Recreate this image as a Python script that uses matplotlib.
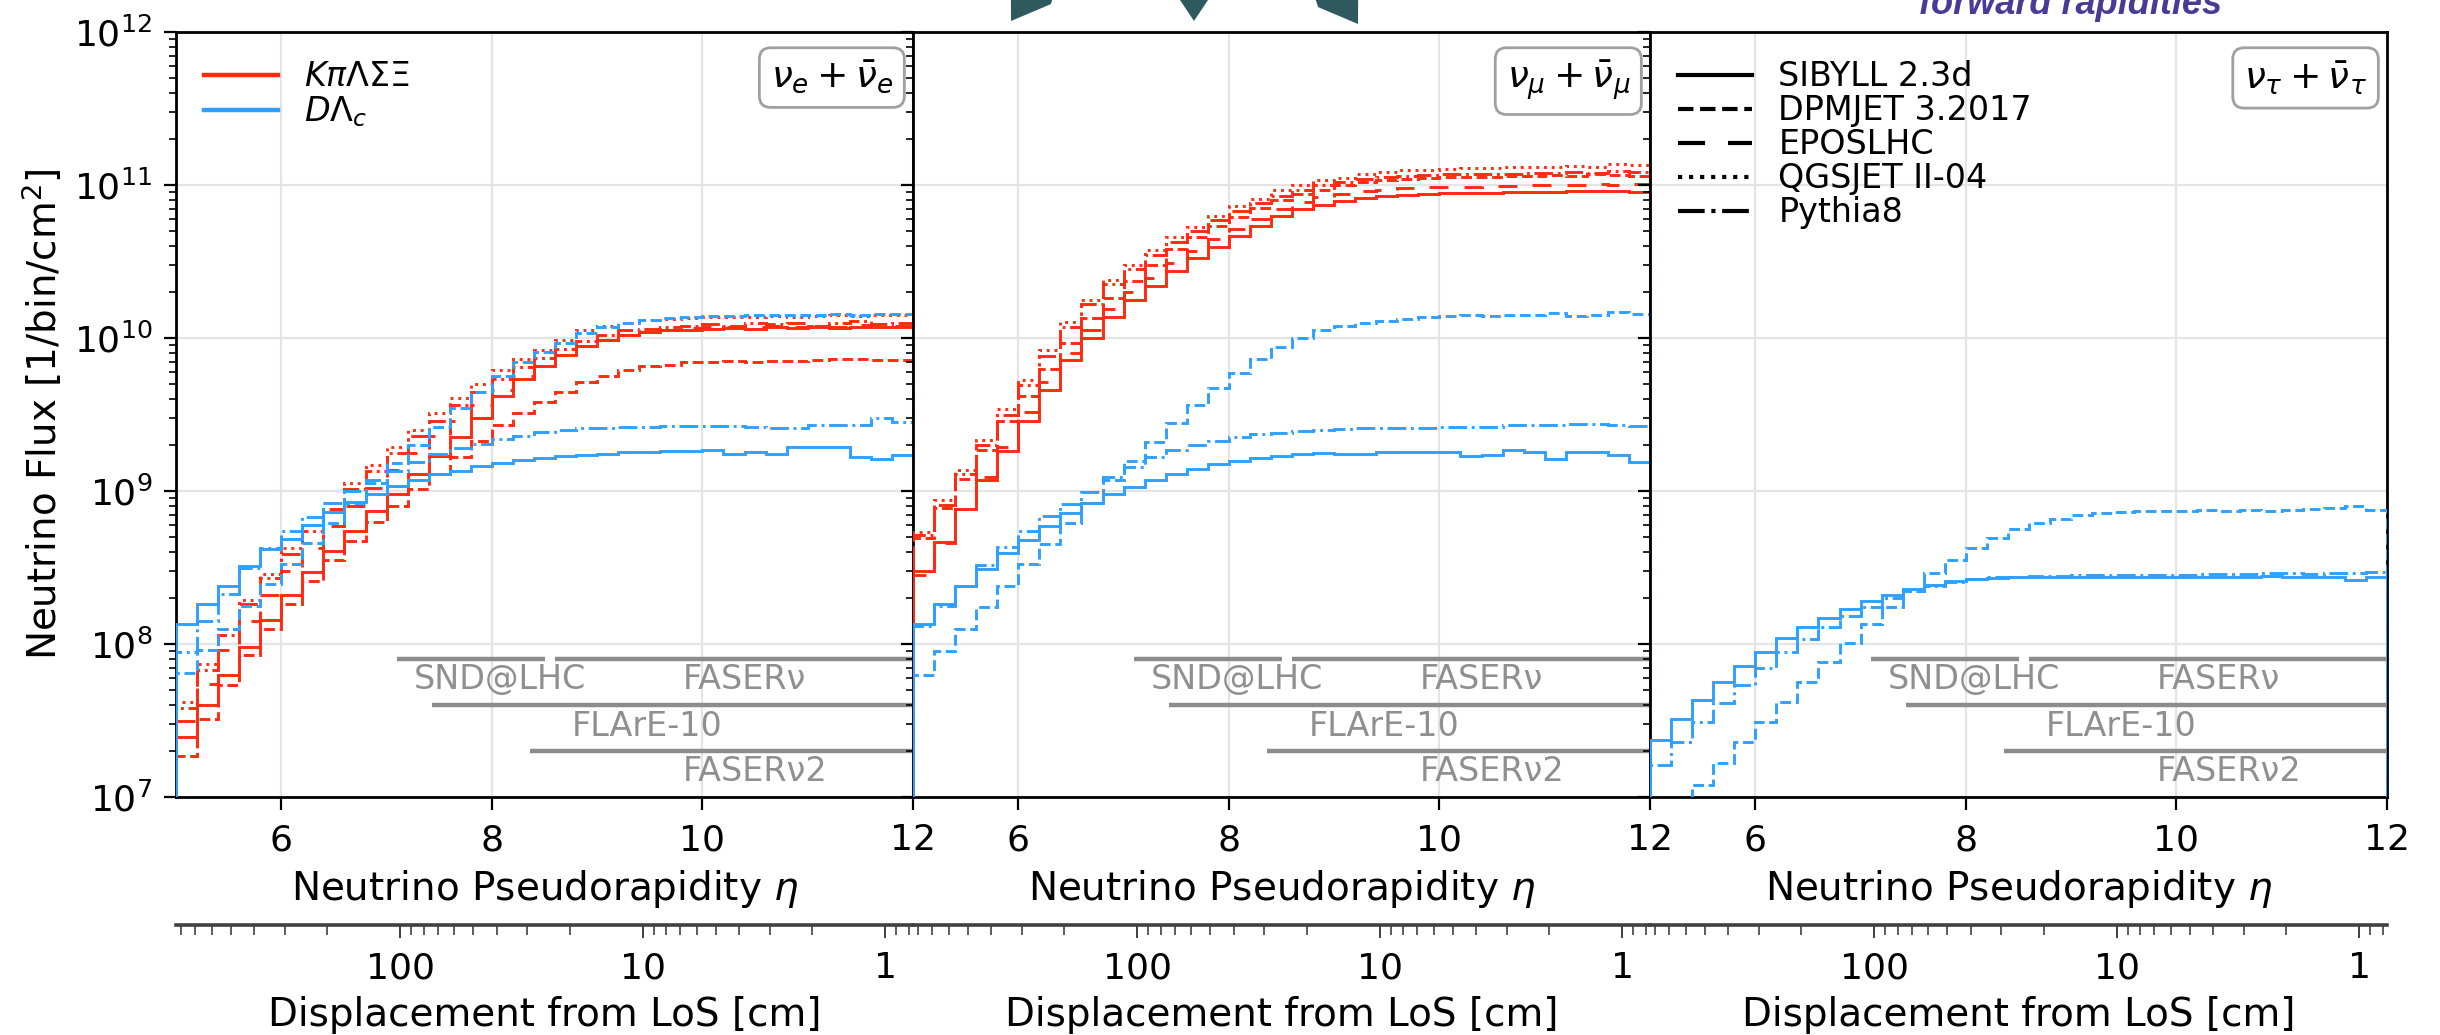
import numpy as np
import matplotlib
matplotlib.use("Agg")
import matplotlib.pyplot as plt
from matplotlib.lines import Line2D
from matplotlib.patches import Polygon
from matplotlib.ticker import LogLocator, NullFormatter, FuncFormatter, FixedLocator

# ---------------------------------------------------------------------------
# Binning in neutrino pseudorapidity (35 bins of width 0.2 from 5 to 12)
# ---------------------------------------------------------------------------
eta_min, eta_max, n_bins = 5.0, 12.0, 35
eta_edges = np.linspace(eta_min, eta_max, n_bins + 1)

# Displacement from the line of sight: d = 2 L exp(-eta), L = 625 m (in cm)
los_distance_cm = 62500.0

# ---------------------------------------------------------------------------
# log10 of neutrino flux per bin [1/bin/cm^2]
# light hadrons (K, pi, Lambda, Sigma, Xi) and charm (D, Lambda_c)
# ---------------------------------------------------------------------------
# nu_e + nu_e-bar
nue_light_sibyll = [7.39, 7.60, 7.80, 7.98, 8.16, 8.32, 8.47, 8.61, 8.74, 8.87,
                    8.98, 9.11, 9.23, 9.35, 9.48, 9.62, 9.73, 9.82, 9.89, 9.95,
                    9.99, 10.02, 10.04, 10.05, 10.055, 10.06, 10.065, 10.06, 10.07, 10.065,
                    10.07, 10.065, 10.07, 10.075, 10.07]
nue_light_dpmjet = [7.27, 7.51, 7.73, 7.93, 8.10, 8.26, 8.41, 8.55, 8.67, 8.80,
                    8.90, 9.01, 9.11, 9.22, 9.33, 9.43, 9.51, 9.58, 9.65, 9.71,
                    9.75, 9.79, 9.815, 9.825, 9.84, 9.845, 9.848, 9.845, 9.85, 9.848,
                    9.855, 9.863, 9.86, 9.855, 9.854]
nue_light_epos = [7.50, 7.74, 7.96, 8.15, 8.32, 8.48, 8.63, 8.77, 8.90, 9.02,
                  9.14, 9.25, 9.36, 9.46, 9.56, 9.66, 9.75, 9.82, 9.89, 9.95,
                  9.99, 10.02, 10.04, 10.055, 10.065, 10.07, 10.075, 10.07, 10.08, 10.075,
                  10.08, 10.075, 10.085, 10.08, 10.08]
nue_light_qgsjet = [7.62, 7.87, 8.10, 8.29, 8.46, 8.63, 8.78, 8.92, 9.05, 9.17,
                    9.29, 9.40, 9.51, 9.61, 9.70, 9.79, 9.86, 9.92, 9.99, 10.05,
                    10.08, 10.10, 10.115, 10.125, 10.13, 10.135, 10.14, 10.14, 10.145, 10.14,
                    10.145, 10.15, 10.145, 10.15, 10.15]
nue_light_pythia = [7.58, 7.83, 8.06, 8.26, 8.43, 8.59, 8.74, 8.88, 9.01, 9.13,
                    9.25, 9.36, 9.46, 9.56, 9.65, 9.73, 9.81, 9.87, 9.93, 9.98,
                    10.02, 10.05, 10.06, 10.07, 10.08, 10.09, 10.08, 10.10, 10.09, 10.10,
                    10.08, 10.10, 10.11, 10.09, 10.10]
nue_charm_sibyll = [8.13, 8.26, 8.38, 8.51, 8.62, 8.685, 8.78, 8.86, 8.925, 8.98,
                    9.03, 9.07, 9.11, 9.13, 9.165, 9.185, 9.20, 9.215, 9.23, 9.235,
                    9.245, 9.255, 9.257, 9.26, 9.263, 9.265, 9.24, 9.254, 9.24, 9.287,
                    9.287, 9.285, 9.224, 9.207, 9.233]
nue_charm_dpmjet = [7.81, 7.96, 8.10, 8.25, 8.39, 8.525, 8.66, 8.79, 8.92, 9.05,
                    9.18, 9.30, 9.42, 9.54, 9.65, 9.75, 9.84, 9.91, 9.97, 10.03,
                    10.07, 10.10, 10.12, 10.13, 10.14, 10.145, 10.145, 10.15, 10.15, 10.148,
                    10.15, 10.155, 10.15, 10.16, 10.155]
nue_charm_pythia = [7.95, 8.15, 8.33, 8.50, 8.63, 8.74, 8.83, 8.92, 9.00, 9.07,
                    9.13, 9.19, 9.24, 9.28, 9.31, 9.34, 9.36, 9.385, 9.40, 9.41,
                    9.415, 9.42, 9.42, 9.425, 9.425, 9.425, 9.425, 9.42, 9.415, 9.41,
                    9.43, 9.43, 9.43, 9.478, 9.45]

# nu_mu + nu_mu-bar
numu_light_sibyll = [8.48, 8.667, 8.88, 9.07, 9.26, 9.46, 9.66, 9.853, 10.0, 10.136,
                     10.25, 10.34, 10.435, 10.52, 10.595, 10.667, 10.733, 10.795, 10.843, 10.87,
                     10.895, 10.915, 10.926, 10.935, 10.941, 10.946, 10.948, 10.95, 10.952, 10.954,
                     10.956, 10.958, 10.958, 10.958, 10.954]
numu_light_dpmjet = [8.69, 8.89, 9.08, 9.27, 9.46, 9.62, 9.80, 9.97, 10.13, 10.26,
                     10.37, 10.48, 10.58, 10.66, 10.73, 10.79, 10.85, 10.90, 10.94, 10.97,
                     11.0, 11.02, 11.03, 11.04, 11.045, 11.05, 11.055, 11.055, 11.06, 11.06,
                     11.065, 11.06, 11.07, 11.065, 11.06]
numu_light_epos = [8.45, 8.66, 8.88, 9.09, 9.29, 9.515, 9.71, 9.90, 10.05, 10.19,
                   10.30, 10.395, 10.49, 10.57, 10.645, 10.715, 10.78, 10.84, 10.89, 10.92,
                   10.94, 10.96, 10.97, 10.98, 10.985, 10.99, 10.99, 10.995, 10.995, 11.0,
                   11.0, 11.0, 11.005, 11.0, 11.005]
numu_light_qgsjet = [8.73, 8.94, 9.14, 9.336, 9.536, 9.728, 9.923, 10.107, 10.248, 10.38,
                     10.48, 10.573, 10.66, 10.728, 10.795, 10.86, 10.91, 10.968, 11.0, 11.035,
                     11.045, 11.07, 11.085, 11.095, 11.10, 11.105, 11.11, 11.11, 11.115, 11.12,
                     11.12, 11.125, 11.12, 11.14, 11.13]
numu_light_pythia = [8.71, 8.91, 9.11, 9.30, 9.50, 9.69, 9.88, 10.07, 10.22, 10.35,
                     10.45, 10.545, 10.63, 10.70, 10.77, 10.83, 10.88, 10.93, 10.965, 11.0,
                     11.02, 11.04, 11.05, 11.06, 11.065, 11.07, 11.072, 11.075, 11.075, 11.078,
                     11.08, 11.085, 11.08, 11.09, 11.085]
numu_charm_sibyll = [8.128, 8.261, 8.381, 8.493, 8.595, 8.683, 8.768, 8.853, 8.92, 8.981,
                     9.027, 9.069, 9.109, 9.141, 9.176, 9.195, 9.213, 9.229, 9.24, 9.248,
                     9.241, 9.245, 9.255, 9.257, 9.257, 9.257, 9.228, 9.235, 9.268, 9.258,
                     9.207, 9.256, 9.256, 9.235, 9.188]
numu_charm_dpmjet = [7.80, 7.955, 8.096, 8.24, 8.381, 8.52, 8.653, 8.789, 8.92, 9.07,
                     9.195, 9.32, 9.443, 9.56, 9.675, 9.773, 9.861, 9.941, 10.003, 10.05,
                     10.078, 10.10, 10.11, 10.124, 10.137, 10.143, 10.152, 10.143, 10.148, 10.148,
                     10.161, 10.143, 10.152, 10.17, 10.154]
numu_charm_pythia = [8.115, 8.25, 8.38, 8.515, 8.635, 8.741, 8.835, 8.915, 8.995, 9.09,
                     9.16, 9.22, 9.265, 9.30, 9.33, 9.355, 9.37, 9.38, 9.395, 9.40,
                     9.404, 9.41, 9.415, 9.415, 9.415, 9.42, 9.42, 9.42, 9.43, 9.43,
                     9.432, 9.437, 9.437, 9.43, 9.426]

# nu_tau + nu_tau-bar (charm only)
nutau_charm_sibyll = [7.374, 7.511, 7.637, 7.754, 7.859, 7.95, 8.037, 8.109, 8.172, 8.228,
                      8.283, 8.32, 8.359, 8.387, 8.411, 8.424, 8.43, 8.435, 8.437, 8.437,
                      8.435, 8.437, 8.438, 8.438, 8.437, 8.437, 8.438, 8.437, 8.44, 8.445,
                      8.44, 8.437, 8.437, 8.42, 8.437]
nutau_charm_dpmjet = [6.78, 6.93, 7.076, 7.222, 7.359, 7.493, 7.624, 7.754, 7.885, 8.007,
                      8.13, 8.243, 8.348, 8.461, 8.548, 8.63, 8.696, 8.75, 8.789, 8.82,
                      8.841, 8.859, 8.865, 8.87, 8.872, 8.872, 8.875, 8.872, 8.878, 8.872,
                      8.875, 8.882, 8.89, 8.902, 8.876]
nutau_charm_pythia = [7.207, 7.359, 7.489, 7.615, 7.733, 7.841, 7.946, 8.033, 8.109, 8.18,
                      8.243, 8.30, 8.348, 8.38, 8.407, 8.425, 8.435, 8.44, 8.445, 8.445,
                      8.448, 8.45, 8.45, 8.452, 8.45, 8.452, 8.455, 8.455, 8.46, 8.467,
                      8.465, 8.46, 8.462, 8.465, 8.47]

# Detector acceptance bands
detector_names = ["SND@LHC", "FASERν", "FLArE-10", "FASERν2"]
detector_eta_low = [7.1, 8.6, 7.43, 8.36]
detector_eta_high = [8.5, 12.0, 12.0, 12.0]
detector_bar_level = [8.0e7, 8.0e7, 4.0e7, 2.0e7]
detector_label_eta = [8.08, 10.4, 9.47, 10.5]
detector_label_level = [5.85e7, 5.85e7, 2.9e7, 1.47e7]

flavour_labels = [r"$\nu_e + \bar{\nu}_e$", r"$\nu_\mu + \bar{\nu}_\mu$",
                  r"$\nu_\tau + \bar{\nu}_\tau$"]
generator_names = ["SIBYLL 2.3d", "DPMJET 3.2017", "EPOSLHC", "QGSJET II-04", "Pythia8"]
parent_labels = [r"$K\pi\Lambda\Sigma\Xi$", r"$D\Lambda_c$"]

# ---------------------------------------------------------------------------
# Styling
# ---------------------------------------------------------------------------
RED = "#ff2a10"
BLUE = "#2fa0ff"
GEN_STYLE = {
    "SIBYLL 2.3d": "-",
    "DPMJET 3.2017": (0, (3.7, 1.6)),
    "EPOSLHC": (0, (6.5, 5.5)),
    "QGSJET II-04": (0, (1, 1.65)),
    "Pythia8": (0, (6.4, 1.6, 1.0, 1.6)),
}

panels = [
    {"light": {"SIBYLL 2.3d": nue_light_sibyll, "DPMJET 3.2017": nue_light_dpmjet,
               "EPOSLHC": nue_light_epos, "QGSJET II-04": nue_light_qgsjet,
               "Pythia8": nue_light_pythia},
     "charm": {"SIBYLL 2.3d": nue_charm_sibyll, "DPMJET 3.2017": nue_charm_dpmjet,
               "Pythia8": nue_charm_pythia}},
    {"light": {"SIBYLL 2.3d": numu_light_sibyll, "DPMJET 3.2017": numu_light_dpmjet,
               "EPOSLHC": numu_light_epos, "QGSJET II-04": numu_light_qgsjet,
               "Pythia8": numu_light_pythia},
     "charm": {"SIBYLL 2.3d": numu_charm_sibyll, "DPMJET 3.2017": numu_charm_dpmjet,
               "Pythia8": numu_charm_pythia}},
    {"light": {},
     "charm": {"SIBYLL 2.3d": nutau_charm_sibyll, "DPMJET 3.2017": nutau_charm_dpmjet,
               "Pythia8": nutau_charm_pythia}},
]

plt.rcParams.update({
    "font.family": ["DejaVu Sans"],
    "mathtext.fontset": "dejavusans",
    "axes.linewidth": 2.0,
    "xtick.major.width": 1.6, "ytick.major.width": 1.6,
    "xtick.minor.width": 1.2, "ytick.minor.width": 1.2,
})

W, H = 2440, 1035
fig = plt.figure(figsize=(W / 100, H / 100), dpi=100)

ax_left_px, ax_w_px = 176, 737
ax_top_px, ax_bot_px = 32, 797
sec_line_px = 925

axes = []
for i, (panel, flav) in enumerate(zip(panels, flavour_labels)):
    x0 = (ax_left_px + i * ax_w_px) / W
    ax = fig.add_axes([x0, 1 - ax_bot_px / H, ax_w_px / W, (ax_bot_px - ax_top_px) / H])
    axes.append(ax)
    ax.set_yscale("log")
    ax.set_xlim(eta_min, eta_max)
    ax.set_ylim(1e7, 1e12)

    ax.grid(True, which="major", color="#e4e4e4", lw=1.6, zorder=0)
    ax.set_axisbelow(True)

    for group, color in (("light", RED), ("charm", BLUE)):
        for gen, logflux in panel[group].items():
            ax.stairs(10.0 ** np.asarray(logflux), eta_edges, baseline=1e3,
                      color=color, lw=2.1, linestyle=GEN_STYLE[gen], zorder=3)

    # detector acceptance bands
    for name, lo, hi, lev, leta, llev in zip(detector_names, detector_eta_low,
                                             detector_eta_high, detector_bar_level,
                                             detector_label_eta, detector_label_level):
        ax.plot([lo, hi], [lev, lev], color="#8c8c8c", lw=3.2,
                solid_capstyle="butt", zorder=4)
        ax.text(leta, llev, name, color="#8f8f8f", fontsize=24,
                ha="center", va="center", zorder=4)

    ax.text(0.973, 0.9647, flav, transform=ax.transAxes, ha="right", va="top",
            fontsize=27, zorder=6,
            bbox=dict(boxstyle="round,pad=0.3", fc="white", ec="#a0a0a0", lw=2))

    ax.xaxis.set_major_locator(FixedLocator([6, 8, 10, 12]))
    ax.yaxis.set_major_locator(LogLocator(base=10, numticks=12))
    ax.yaxis.set_minor_locator(LogLocator(base=10, subs=np.arange(2, 10), numticks=12))
    ax.yaxis.set_minor_formatter(NullFormatter())
    ax.tick_params(axis="both", which="major", direction="out", length=9,
                   labelsize=26, pad=10, top=False, right=False)
    ax.tick_params(axis="y", which="minor", direction="out", length=5, left=True, right=False)
    ax.tick_params(axis="y", which="major", pad=8)
    ax.set_xlabel(r"Neutrino Pseudorapidity $\eta$", fontsize=28, labelpad=8)
    if i == 0:
        ax.set_ylabel("Neutrino Flux [1/bin/cm$^2$]", fontsize=28, labelpad=6)
    else:
        ax.tick_params(axis="y", which="both", labelleft=False)

    # displacement from the line of sight, as an axis beneath each panel
    sec = fig.add_axes([x0, 1 - sec_line_px / H, ax_w_px / W, 1e-4])
    sec.set_xscale("log")
    d_lo = 2 * los_distance_cm * np.exp(-eta_min)
    d_hi = 2 * los_distance_cm * np.exp(-eta_max)
    sec.set_xlim(d_lo, d_hi)
    for side in ("top", "left", "right"):
        sec.spines[side].set_visible(False)
    sec.spines["bottom"].set_color("#404040")
    sec.spines["bottom"].set_linewidth(2.6)
    sec.patch.set_alpha(0)
    sec.set_yticks([])
    sec.xaxis.set_major_locator(LogLocator(base=10, numticks=10))
    sec.xaxis.set_minor_locator(LogLocator(base=10, subs=np.arange(2, 10), numticks=10))
    sec.xaxis.set_major_formatter(FuncFormatter(lambda v, _: f"{v:g}"))
    sec.xaxis.set_minor_formatter(NullFormatter())
    sec.tick_params(axis="x", which="major", direction="out", length=9, width=1.4,
                    labelsize=26, pad=10, color="#404040")
    sec.tick_params(axis="x", which="minor", direction="out", length=7, width=1.2,
                    color="#404040")
    sec.set_xlabel("Displacement from LoS [cm]", fontsize=28, labelpad=8)

# legends
parent_handles = [Line2D([], [], color=RED, lw=3.2), Line2D([], [], color=BLUE, lw=3.2)]
axes[0].legend(parent_handles, parent_labels, loc="upper left", frameon=False,
               fontsize=24, handlelength=2.2, handletextpad=0.8, labelspacing=0.03,
               borderaxespad=0.45)
gen_handles = [Line2D([], [], color="black", lw=3.0, linestyle=GEN_STYLE[g])
               for g in generator_names]
axes[2].legend(gen_handles, generator_names, loc="upper left", frameon=False,
               fontsize=24, handlelength=2.2, handletextpad=0.8, labelspacing=0.03,
               borderaxespad=0.45)

# slide annotations along the top edge
def arrow_head(tip_px, direction, length=36, half_width=24, color="#2e5a5f"):
    tip = np.asarray(tip_px, float)
    u = np.asarray(direction, float)
    u = u / np.hypot(*u)
    p = np.array([u[1], -u[0]])
    base = tip - u * length
    pts = [tip, base + p * half_width, base - u * 60 + p * 8, base - u * 60 - p * 8,
           base - p * half_width]
    pts_fig = [(x / W, 1 - y / H) for x, y in pts]
    fig.add_artist(Polygon(pts_fig, closed=True, transform=fig.transFigure,
                           fc=color, ec="none", zorder=10))

arrow_head((1011, 21), (-0.55, 0.835))
arrow_head((1194, 21), (0.0, 1.0))
arrow_head((1358, 24), (0.55, 0.835))

fig.text(2071 / W, 1 - 14 / H, "forward rapidities", color="#463c96",
         fontsize=26, fontweight="bold", fontstyle="italic",
         family=["Liberation Sans", "DejaVu Sans"], ha="center", va="baseline")

fig.savefig("out.png", dpi=100)
